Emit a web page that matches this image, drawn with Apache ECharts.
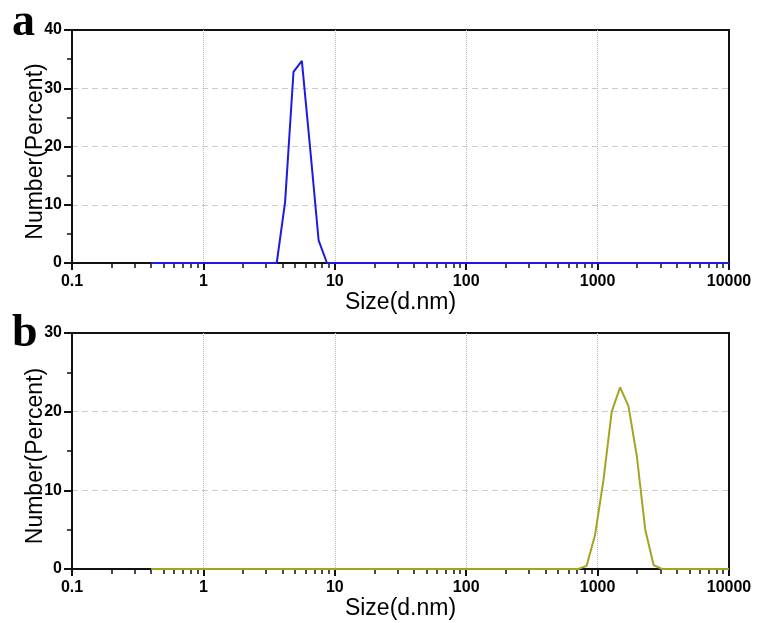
<!DOCTYPE html>
<html><head><meta charset="utf-8">
<script src="https://cdn.jsdelivr.net/npm/echarts@6/dist/echarts.min.js"></script>
<style>html,body{margin:0;padding:0;background:#fff}#c{width:759px;height:623px}</style>
</head><body><div id="c"></div>
<script>
// Size bins (d.nm)
const sizes = [0.4,0.4632,0.5365,0.6213,0.7195,0.8332,0.9649,1.117,1.294,1.499,1.736,2.010,2.328,2.696,3.122,3.615,4.187,4.849,5.615,6.503,7.531,8.721,10.10,11.70,13.54,15.69,18.17,21.04,24.36,28.21,32.67,37.84,43.82,50.75,58.77,68.06,78.82,91.28,105.7,122.4,141.8,164.2,190.1,220.2,255.0,295.3,342.0,396.1,458.7,531.2,615.1,712.4,825.0,955.4,1106,1281,1484,1718,1990,2305,2669,3091,3580,4145,4801,5560,6439,7456,8635,10000];
// Panel a: nonzero values by size
const peakA = {3.615:0, 4.187:10.5, 4.849:32.8, 5.615:34.7, 6.503:19.5, 7.531:3.9, 8.721:0};
// Panel b: nonzero values by size
const peakB = {712.4:0, 825.0:0.4, 955.4:4.3, 1106:11.2, 1281:20.0, 1484:23.1, 1718:20.7, 1990:14.3, 2305:5.0, 2669:0.5, 3091:0};
const xMajorLabels = [0.1,1,10,100,1000,10000];
const minorTickSizes = [];
[0.1,1,10,100,1000].forEach(d => { for (let k = 2; k <= 9; k++) minorTickSizes.push(+(k*d).toPrecision(3)); });

const valuesA = sizes.map(s => peakA[s] !== undefined ? peakA[s] : 0);
const valuesB = sizes.map(s => peakB[s] !== undefined ? peakB[s] : 0);

const FONT = 'Liberation Sans';
const labelStyle = {color:'#000', fontFamily:FONT, fontWeight:'bold', fontSize:16};
const nameStyle = {color:'#000', fontFamily:FONT, fontSize:23};

const grids = [
  {left:72, right:30, top:30, height:233},
  {left:72, right:30, top:333, height:236}
];
function xAxes(gi){
  return [
    {type:'log', gridIndex:gi, min:0.1, max:10000, logBase:10, interval:1,
     name:'Size(d.nm)', nameLocation:'middle', nameGap:28, nameTextStyle:nameStyle, nameMoveOverlap:false,
     axisLine:{show:true, onZero:false, lineStyle:{color:'#111', width:2}},
     axisTick:{show:true, inside:false, length:7, lineStyle:{color:'#111', width:2}},
     axisLabel:{...labelStyle, margin:11, formatter: v => String(v)},
     splitLine:{show:true, showMinLine:false, showMaxLine:false, lineStyle:{color:'#bbb', type:'dotted', width:1}},
     minorTick:{show:false}},
    {type:'value', gridIndex:gi, min:-1, max:4, position:'bottom',
     axisLine:{show:false, onZero:false},
     axisTick:{show:true, inside:false, length:5, lineStyle:{color:'#111', width:1.5},
               customValues: minorTickSizes.map(v => Math.log10(v))},
     axisLabel:{show:false}, splitLine:{show:false}}
  ];
}
function yAxis(gi, max){
  return {type:'value', gridIndex:gi, min:0, max:max, interval:10,
    name:'Number(Percent)', nameLocation:'middle', nameGap:25,
    nameTextStyle:{...nameStyle, padding:[0,10,0,0]}, nameMoveOverlap:false,
    axisLine:{show:true, onZero:false, lineStyle:{color:'#111', width:2}},
    axisTick:{show:true, inside:false, length:8, lineStyle:{color:'#111', width:2}},
    minorTick:{show:true, splitNumber:2, length:5, lineStyle:{color:'#111', width:1.5}},
    axisLabel:{...labelStyle, margin:10},
    splitLine:{show:true, showMinLine:false, showMaxLine:false, lineStyle:{color:'#ccc', type:[6,4], width:1}}};
}

const chart = echarts.init(document.getElementById('c'));
chart.setOption({
  animation:false,
  backgroundColor:'#fff',
  title:[
    {text:'a', left:7, top:-5, textStyle:{fontFamily:'Liberation Serif', fontWeight:'bold', fontSize:46, color:'#000'}},
    {text:'b', left:7, top:306, textStyle:{fontFamily:'Liberation Serif', fontWeight:'bold', fontSize:46, color:'#000'}}
  ],
  grid: grids.map(g => ({...g, show:true, borderColor:'#111', borderWidth:2, backgroundColor:'transparent'})),
  xAxis: [...xAxes(0), ...xAxes(1)],
  yAxis: [yAxis(0,40), yAxis(1,30)],
  series:[
    {type:'line', xAxisIndex:0, yAxisIndex:0, data:sizes.map((s,i)=>[s,valuesA[i]]),
     showSymbol:false, lineStyle:{color:'#1c1ce0', width:2}, itemStyle:{color:'#1c1ce0'}, z:5},
    {type:'line', xAxisIndex:2, yAxisIndex:1, data:sizes.map((s,i)=>[s,valuesB[i]]),
     showSymbol:false, lineStyle:{color:'#a4a424', width:2}, itemStyle:{color:'#a4a424'}, z:5}
  ]
});
</script></body></html>
